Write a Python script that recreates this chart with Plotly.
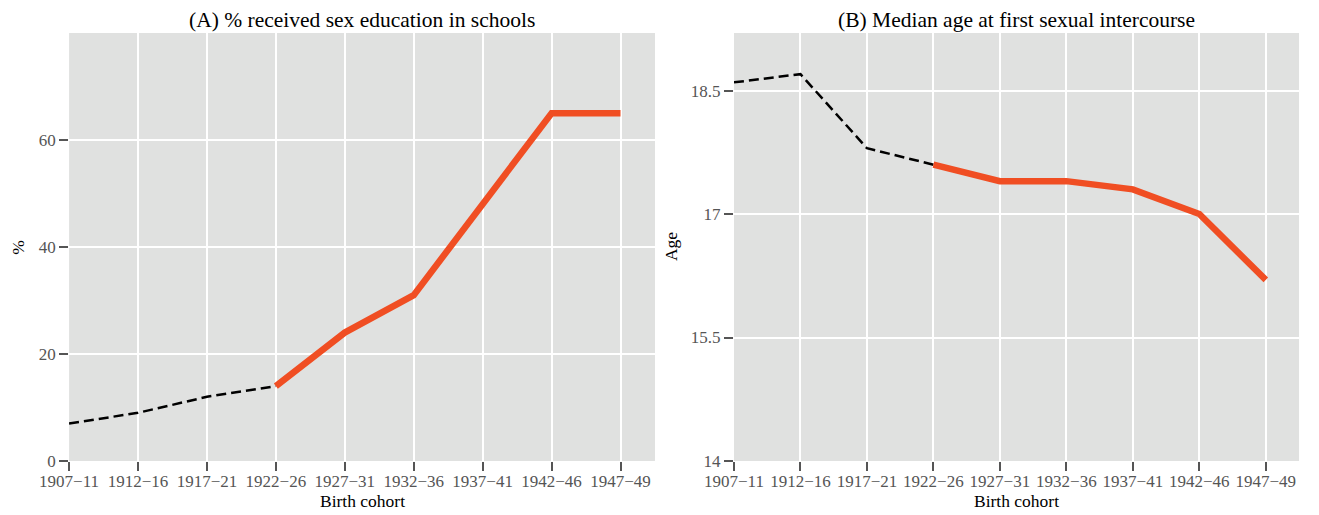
import plotly.graph_objects as go
from plotly.subplots import make_subplots

# Data
cohorts = ['1907\u221211', '1912\u221216', '1917\u221221', '1922\u221226', '1927\u221231',
           '1932\u221236', '1937\u221241', '1942\u221246', '1947\u221249']
sex_ed_pct = [7, 9, 12, 14, 24, 31, 48, 65, 65]
median_age = [18.6, 18.7, 17.8, 17.6, 17.4, 17.4, 17.3, 17.0, 16.2]
split_at = 3  # first cohort of the solid (highlighted) part

age_ticks = [14, 15.5, 17, 18.5]
pct_ticks = [0, 20, 40, 60]

RED = '#F04E23'
BG = '#E0E1E0'
FONT = 'Liberation Serif'

fig = make_subplots(rows=1, cols=2)


def add_series(values, col):
    # dashed early cohorts
    fig.add_trace(go.Scatter(
        x=cohorts[:split_at + 1], y=values[:split_at + 1], mode='lines',
        line=dict(color='black', width=2.5, dash='10px,5px'),
        showlegend=False), row=1, col=col)
    # thick red later cohorts
    fig.add_trace(go.Scatter(
        x=cohorts[split_at:], y=values[split_at:], mode='lines',
        line=dict(color=RED, width=6.5),
        showlegend=False), row=1, col=col)


add_series(sex_ed_pct, 1)
add_series(median_age, 2)

axis_x = dict(type='category', range=[0, 8.5], showgrid=True, gridcolor='white',
              gridwidth=2, ticks='outside', ticklen=9, tickwidth=1.5,
              tickcolor='#555555', showline=False, zeroline=False, automargin=False,
              ticklabelstandoff=-4,
              tickfont=dict(family=FONT, size=17, color='#555555'))
axis_y = dict(showgrid=True, gridcolor='white', gridwidth=2, ticks='outside',
              ticklen=9, tickwidth=1.5, tickcolor='#555555', showline=False,
              zeroline=False, automargin=False,
              tickfont=dict(family=FONT, size=17, color='#555555'))

# the page adds an 8px body margin, domains are offset for it
fig.update_layout(
    width=1319, height=515,
    margin=dict(l=0, r=0, t=0, b=0, autoexpand=False),
    paper_bgcolor='white', plot_bgcolor=BG,
    font=dict(family=FONT, color='black'),
    xaxis=dict(axis_x, domain=[0.0463, 0.4905]),
    xaxis2=dict(axis_x, domain=[0.5504, 0.9788]),
    yaxis=dict(axis_y, domain=[0.1204, 0.9515], range=[0, 80], tickvals=pct_ticks),
    yaxis2=dict(axis_y, domain=[0.1204, 0.9515], range=[14, 19.2], tickvals=age_ticks,
                ticktext=[str(t) for t in age_ticks]),
)

# Panel titles and axis titles
notes = [
    dict(text='(A) % received sex education in schools', x=0.2684, y=0.977, size=21.5, angle=0),
    dict(text='(B) Median age at first sexual intercourse', x=0.7646, y=0.977, size=21.5, angle=0),
    dict(text='Birth cohort', x=0.2684, y=0.0427, size=17.5, angle=0),
    dict(text='Birth cohort', x=0.7646, y=0.0427, size=17.5, angle=0),
    dict(text='%', x=0.0075, y=0.536, size=17.5, angle=-90),
    dict(text='Age', x=0.5027, y=0.536, size=17.5, angle=-90),
]
for n in notes:
    fig.add_annotation(text=n['text'], x=n['x'], y=n['y'], xref='paper', yref='paper',
                       xanchor='center', yanchor='middle',
                       showarrow=False, textangle=n['angle'],
                       font=dict(family=FONT, size=n['size'], color='black'))

fig.write_html('out.html')
